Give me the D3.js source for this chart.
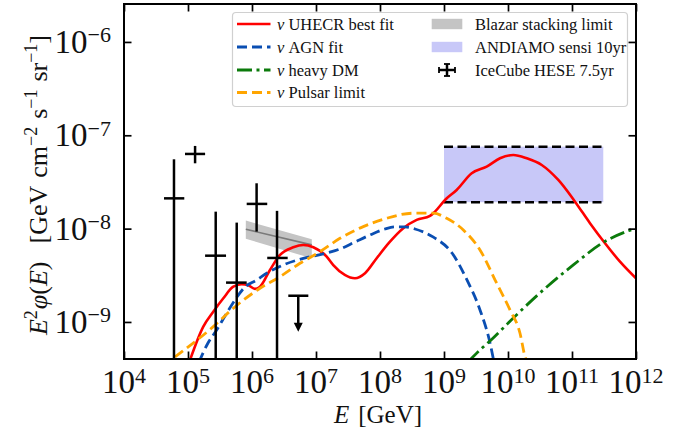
<!DOCTYPE html>
<html>
<head>
<meta charset="utf-8">
<script src="https://cdn.jsdelivr.net/npm/d3@7/dist/d3.min.js"></script>
<style>
  html, body { margin: 0; padding: 0; background: #fff; }
  svg { display: block; }
  svg text { font-family: "Liberation Serif", "DejaVu Serif", "Times New Roman", serif; }
</style>
</head>
<body>
<svg id="chart" width="683" height="437"></svg>
<script>
// ---- axis limits and ticks (E in GeV, flux in GeV cm^-2 s^-1 sr^-1) ----
const xLimits = [1e4, 1e12];
const yLimits = [4.01e-10, 2.55e-6];
const xTickExps = [4, 5, 6, 7, 8, 9, 10, 11, 12];
const yTickExps = [-9, -8, -7, -6];

// ---- model curves, stored as [log10 E, log10 E^2 phi] ----
const uhecrCurve = [
  [5.02, -9.43], [5.239, -9.050], [5.395, -8.890], [5.552, -8.746], [5.708, -8.622],
  [5.839, -8.596], [5.942, -8.607], [6.047, -8.646], [6.125, -8.622], [6.281, -8.443],
  [6.438, -8.282], [6.645, -8.200], [6.802, -8.175], [6.958, -8.200], [7.167, -8.300],
  [7.27, -8.39], [7.45, -8.496], [7.609, -8.532], [7.766, -8.478], [7.948, -8.317],
  [8.156, -8.140], [8.364, -7.996], [8.573, -7.907], [8.781, -7.864], [8.859, -7.818],
  [9.016, -7.693], [9.198, -7.586], [9.433, -7.407], [9.667, -7.336], [9.875, -7.246],
  [10.083, -7.211], [10.292, -7.246], [10.527, -7.318], [10.786, -7.479], [11.047, -7.711],
  [11.281, -7.942], [11.516, -8.157], [11.750, -8.354], [12.0, -8.532]
];
const agnCurve = [
  [5.172, -9.429], [5.3125, -9.225], [5.448, -9.086], [5.578, -8.936], [5.734, -8.764],
  [5.891, -8.625], [6.0625, -8.555], [6.230, -8.478], [6.489, -8.389], [6.802, -8.318],
  [7.141, -8.266], [7.375, -8.218], [7.609, -8.143], [7.844, -8.068], [8.078, -8.004],
  [8.234, -7.982], [8.391, -7.982], [8.547, -8.004], [8.828, -8.089], [9.125, -8.261],
  [9.359, -8.550], [9.5625, -8.871], [9.719, -9.225], [9.781, -9.429]
];
const heavyDmCurve = [
  [9.375, -9.429], [9.5625, -9.300], [9.719, -9.204], [10.083, -8.957], [10.605, -8.625],
  [11.021, -8.389], [11.489, -8.148], [11.855, -8.030], [12.0, -7.996]
];
const pulsarCurve = [
  [4.797, -9.375], [5.395, -9.050], [5.708, -8.853], [6.125, -8.639], [6.4375, -8.515],
  [6.75, -8.371], [7.0625, -8.247], [7.375, -8.104], [7.739, -7.979], [8.105, -7.889],
  [8.520, -7.835], [8.833, -7.835], [9.042, -7.889], [9.302, -8.014], [9.5625, -8.229],
  [9.823, -8.585], [10.031, -8.871], [10.1875, -9.121], [10.266, -9.372], [10.297, -9.429]
];

// ---- Blazar stacking limit band ----
const blazarE = [8.0e5, 8.6e6];
const blazarUpper = [1.22e-8, 7.7e-9];
const blazarLower = [7.8e-9, 4.8e-9];
const blazarCentral = [9.84e-9, 6.7e-9];

// ---- ANDIAMO 10 yr sensitivity band ----
const andiamoE = [1e9, 3.08e11];
const andiamoFlux = [1.92e-8, 7.55e-8];

// ---- IceCube HESE 7.5 yr unfolded spectrum (null lower = consistent with zero) ----
const heseE     = [6.04e4, 1.29e5, 2.71e5, 5.77e5, 1.18e6, 2.46e6];
const heseElo   = [4.22e4, 8.97e4, 1.85e5, 3.93e5, 8.26e5, 1.73e6];
const heseEhi   = [8.75e4, 1.85e5, 3.93e5, 8.26e5, 1.73e6, 3.61e6];
const heseFlux  = [2.11e-8, 6.31e-8, 5.13e-9, 2.64e-9, 1.84e-8, 4.85e-9];
const heseUpper = [5.53e-8, 7.69e-8, 1.52e-8, 1.16e-8, 3.06e-8, 1.55e-8];
const heseLower = [null, 5.01e-8, null, null, 9.29e-9, null];
// upper limit bin
const heseLimitE = [3.69e6, 5.28e6, 7.59e6];
const heseLimitFlux = 1.91e-9;

// ---- layout ----
const SERIF = "'Liberation Serif', 'DejaVu Serif', serif";
const plot = { left: 124, right: 636, top: 4, bottom: 359 };
const svg = d3.select("#chart").attr("font-family", SERIF);

const x = d3.scaleLog().domain(xLimits).range([plot.left, plot.right]);
const y = d3.scaleLog().domain(yLimits).range([plot.bottom, plot.top]);

svg.append("defs").append("clipPath").attr("id", "plot-clip")
  .append("rect")
  .attr("x", plot.left).attr("y", plot.top)
  .attr("width", plot.right - plot.left).attr("height", plot.bottom - plot.top);

const layer = svg.append("g").attr("clip-path", "url(#plot-clip)");

const styles = {
  uhecr:  { color: "#ff0000", width: 2.6, dash: null },
  agn:    { color: "#0a4eb2", width: 2.8, dash: "10,5" },
  dm:     { color: "#0b7a0b", width: 2.8, dash: "15,4.5,3,4.5" },
  pulsar: { color: "#ffa500", width: 2.8, dash: "10,5" }
};

// ANDIAMO band with dashed edges
layer.append("rect")
  .attr("x", x(andiamoE[0]))
  .attr("y", y(andiamoFlux[1]))
  .attr("width", x(andiamoE[1]) - x(andiamoE[0]))
  .attr("height", y(andiamoFlux[0]) - y(andiamoFlux[1]))
  .attr("fill", "#c8c8f8");
andiamoFlux.forEach(f => {
  layer.append("line")
    .attr("x1", x(andiamoE[0])).attr("x2", x(andiamoE[1]))
    .attr("y1", y(f)).attr("y2", y(f))
    .attr("stroke", "#000").attr("stroke-width", 2.5)
    .attr("stroke-dasharray", "9,4.5");
});

// Blazar stacking band
const blazarPts = blazarE.map((e, i) => ({ e, lo: blazarLower[i], hi: blazarUpper[i], c: blazarCentral[i] }));
layer.append("path")
  .datum(blazarPts)
  .attr("d", d3.area().x(d => x(d.e)).y0(d => y(d.lo)).y1(d => y(d.hi)))
  .attr("fill", "#c4c4c4");
layer.append("path")
  .datum(blazarPts)
  .attr("d", d3.line().x(d => x(d.e)).y(d => y(d.c)))
  .attr("fill", "none").attr("stroke", "#7a7a7a").attr("stroke-width", 1.6);

// model curves
const curveLine = d3.line()
  .x(d => x(Math.pow(10, d[0])))
  .y(d => y(Math.pow(10, d[1])))
  .curve(d3.curveMonotoneX);

[[uhecrCurve, styles.uhecr], [agnCurve, styles.agn], [heavyDmCurve, styles.dm], [pulsarCurve, styles.pulsar]]
  .forEach(([pts, st]) => {
    layer.append("path")
      .datum(pts)
      .attr("d", curveLine)
      .attr("fill", "none")
      .attr("stroke", st.color)
      .attr("stroke-width", st.width)
      .attr("stroke-dasharray", st.dash)
      .attr("stroke-linejoin", "round");
  });

// HESE data points
const ebar = layer.append("g").attr("stroke", "#000").attr("stroke-width", 2.5);
heseE.forEach((e, i) => {
  ebar.append("line")
    .attr("x1", x(heseElo[i])).attr("x2", x(heseEhi[i]))
    .attr("y1", y(heseFlux[i])).attr("y2", y(heseFlux[i]));
  const yLow = heseLower[i] === null ? plot.bottom + 2 : y(heseLower[i]);
  ebar.append("line")
    .attr("x1", x(e)).attr("x2", x(e))
    .attr("y1", y(heseUpper[i])).attr("y2", yLow);
});
// upper limit with downward arrow
const ulX = x(heseLimitE[1]), ulY = y(heseLimitFlux);
ebar.append("line")
  .attr("x1", x(heseLimitE[0])).attr("x2", x(heseLimitE[2]))
  .attr("y1", ulY).attr("y2", ulY);
ebar.append("line")
  .attr("x1", ulX).attr("x2", ulX)
  .attr("y1", ulY).attr("y2", ulY + 29);
layer.append("path")
  .attr("d", `M${ulX - 4.5},${ulY + 27} L${ulX + 4.5},${ulY + 27} L${ulX},${ulY + 36} Z`)
  .attr("fill", "#000");

// ---- axes: inward ticks on all four sides ----
const xTickVals = xTickExps.map(e => Math.pow(10, e));
const yTickVals = yTickExps.map(e => Math.pow(10, e));
const tickLen = 7.5;

function styleAxis(g) {
  g.select(".domain").remove();
  g.selectAll(".tick line").attr("stroke", "#000").attr("stroke-width", 1.7);
  g.selectAll(".tick text").remove();
}

svg.append("g").attr("transform", `translate(0,${plot.bottom})`)
  .call(d3.axisBottom(x).tickValues(xTickVals).tickSize(-tickLen).tickFormat(() => ""))
  .call(styleAxis);
svg.append("g").attr("transform", `translate(0,${plot.top})`)
  .call(d3.axisTop(x).tickValues(xTickVals).tickSize(-tickLen).tickFormat(() => ""))
  .call(styleAxis);
svg.append("g").attr("transform", `translate(${plot.left},0)`)
  .call(d3.axisLeft(y).tickValues(yTickVals).tickSize(-tickLen).tickFormat(() => ""))
  .call(styleAxis);
svg.append("g").attr("transform", `translate(${plot.right},0)`)
  .call(d3.axisRight(y).tickValues(yTickVals).tickSize(-tickLen).tickFormat(() => ""))
  .call(styleAxis);

// frame
svg.append("rect")
  .attr("x", plot.left).attr("y", plot.top)
  .attr("width", plot.right - plot.left).attr("height", plot.bottom - plot.top)
  .attr("fill", "none").attr("stroke", "#000").attr("stroke-width", 2);

function serifText(parent) {
  return parent.append("text").attr("font-family", SERIF).attr("fill", "#111");
}

// tick labels as powers of ten
const tickFont = 33, supFont = 22, supRise = 10.5;
xTickExps.forEach(e => {
  const t = serifText(svg)
    .attr("x", x(Math.pow(10, e))).attr("y", 393)
    .attr("text-anchor", "middle")
    .attr("font-size", tickFont);
  t.append("tspan").text("10");
  t.append("tspan").attr("font-size", supFont).attr("dy", -supRise).text(String(e));
});
yTickExps.forEach(e => {
  const t = serifText(svg)
    .attr("x", 111).attr("y", y(Math.pow(10, e)) + 11)
    .attr("text-anchor", "end")
    .attr("font-size", tickFont);
  t.append("tspan").text("10");
  t.append("tspan").attr("font-size", supFont).attr("dy", -supRise).text("\u2212" + Math.abs(e));
});

// axis titles
const xTitle = serifText(svg)
  .attr("x", 378).attr("y", 423)
  .attr("text-anchor", "middle")
  .attr("font-size", 25);
xTitle.append("tspan").attr("font-style", "italic").text("E");
xTitle.append("tspan").attr("dx", 9).text("[GeV]");

const yTitle = serifText(svg)
  .attr("transform", "translate(47,185) rotate(-90)")
  .attr("text-anchor", "middle")
  .attr("font-size", 26);
yTitle.append("tspan").attr("font-style", "italic").text("E");
yTitle.append("tspan").attr("font-size", 18).attr("dy", -10).text("2");
yTitle.append("tspan").attr("font-style", "italic").attr("dy", 10).attr("dx", 1).text("\u03c6");
yTitle.append("tspan").text("(");
yTitle.append("tspan").attr("font-style", "italic").text("E");
yTitle.append("tspan").text(")");
yTitle.append("tspan").attr("dx", 18).text("[GeV");
yTitle.append("tspan").attr("dx", 8).text("cm");
yTitle.append("tspan").attr("font-size", 18).attr("dy", -10).text("\u22122");
yTitle.append("tspan").attr("dy", 10).attr("dx", 8).text("s");
yTitle.append("tspan").attr("font-size", 18).attr("dy", -10).text("\u22121");
yTitle.append("tspan").attr("dy", 10).attr("dx", 8).text("sr");
yTitle.append("tspan").attr("font-size", 18).attr("dy", -10).text("\u22121");
yTitle.append("tspan").attr("dy", 10).text("]");

// ---- legend ----
const legend = svg.append("g");
legend.append("rect")
  .attr("x", 232.5).attr("y", 12.5).attr("width", 395).attr("height", 94)
  .attr("rx", 3.5)
  .attr("fill", "#fff").attr("fill-opacity", 0.85)
  .attr("stroke", "#d0d0d0").attr("stroke-width", 1.2);

const rowY = [24, 47, 70, 92.5];
const lineEntries = [
  { label: "UHECR best fit", st: styles.uhecr },
  { label: "AGN fit", st: styles.agn },
  { label: "heavy DM", st: styles.dm },
  { label: "Pulsar limit", st: styles.pulsar }
];
lineEntries.forEach((d, i) => {
  legend.append("line")
    .attr("x1", 237).attr("x2", 270.5)
    .attr("y1", rowY[i]).attr("y2", rowY[i])
    .attr("stroke", d.st.color).attr("stroke-width", d.st.width)
    .attr("stroke-dasharray", d.st.dash);
  const t = serifText(legend)
    .attr("x", 277).attr("y", rowY[i] + 5.5)
    .attr("font-size", 16.5);
  t.append("tspan").attr("font-style", "italic").text("\u03bd");
  t.append("tspan").text(" " + d.label);
});

const patchEntries = [
  { label: "Blazar stacking limit", fill: "#c4c4c4" },
  { label: "ANDIAMO sensi 10yr", fill: "#c8c8f8" }
];
patchEntries.forEach((d, i) => {
  legend.append("rect")
    .attr("x", 431.7).attr("y", rowY[i] - 5.2)
    .attr("width", 30.6).attr("height", 10.4)
    .attr("fill", d.fill);
  serifText(legend)
    .attr("x", 475).attr("y", rowY[i] + 5.5)
    .attr("font-size", 16.5)
    .text(d.label);
});
// error-bar handle
const ix = 447, iy = rowY[2];
const icon = legend.append("g").attr("stroke", "#000").attr("stroke-width", 2.5);
icon.append("line").attr("x1", ix - 8).attr("x2", ix + 8).attr("y1", iy).attr("y2", iy);
icon.append("line").attr("x1", ix).attr("x2", ix).attr("y1", iy - 6).attr("y2", iy + 6);
icon.append("line").attr("x1", ix - 8).attr("x2", ix - 8).attr("y1", iy - 3).attr("y2", iy + 3).attr("stroke-width", 1.8);
icon.append("line").attr("x1", ix + 8).attr("x2", ix + 8).attr("y1", iy - 3).attr("y2", iy + 3).attr("stroke-width", 1.8);
icon.append("line").attr("x1", ix - 3).attr("x2", ix + 3).attr("y1", iy - 6).attr("y2", iy - 6).attr("stroke-width", 1.8);
icon.append("line").attr("x1", ix - 3).attr("x2", ix + 3).attr("y1", iy + 6).attr("y2", iy + 6).attr("stroke-width", 1.8);
serifText(legend)
  .attr("x", 475).attr("y", rowY[2] + 5.5)
  .attr("font-size", 16.5)
  .text("IceCube HESE 7.5yr");
</script>
</body>
</html>
